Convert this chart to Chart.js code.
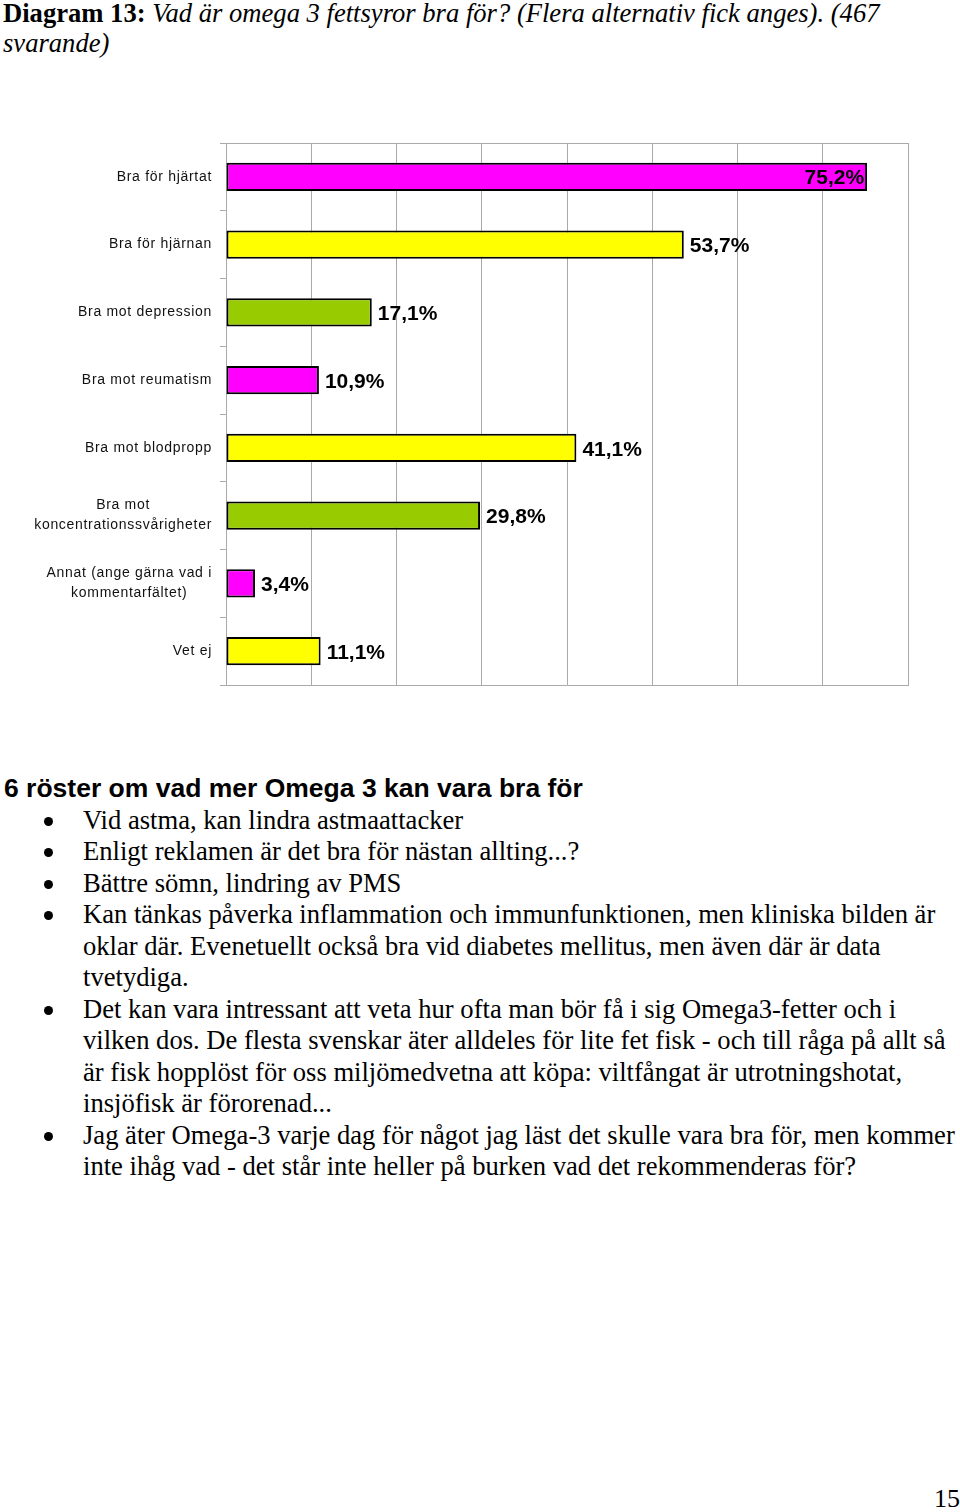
<!DOCTYPE html>
<html>
<head>
<meta charset="utf-8">
<script src="https://cdn.jsdelivr.net/npm/chart.js@4"></script>
<style>
  body { margin: 0; background: #fff; width: 960px; height: 1512px; position: relative; overflow: hidden; }
  .title { position: absolute; left: 3px; top: -2px; font-family: "Liberation Serif", serif; font-size: 26.6px; line-height: 30px; color: #000; white-space: nowrap; }
  .title b { font-style: normal; }
  .title i { font-style: italic; }
  #wrap { position: absolute; left: 0; top: 120px; }
  .heading { position: absolute; left: 4px; top: 773px; font-family: "Liberation Sans", Arial, sans-serif; font-weight: bold; font-size: 26.5px; line-height: 30px; white-space: nowrap; }
  ul { position: absolute; left: 0; top: 805px; margin: 0; padding: 0; list-style: none; font-family: "Liberation Serif", serif; font-size: 26.6px; line-height: 31.45px; }
  li { position: relative; padding-left: 83px; white-space: nowrap; }
  li::before { content: ""; position: absolute; left: 44px; top: 12px; width: 9px; height: 9px; border-radius: 50%; background: #000; }
  .page { position: absolute; right: 0; top: 1484px; font-family: "Liberation Serif", serif; font-size: 26px; }
</style>
</head>
<body>
<div class="title"><b>Diagram 13:</b> <i>Vad är omega 3 fettsyror bra för? (Flera alternativ fick anges). (467<br>svarande)</i></div>
<div id="wrap"><canvas id="myChart" width="960" height="590"></canvas></div>
<div class="heading">6 röster om vad mer Omega 3 kan vara bra för</div>
<ul>
  <li>Vid astma, kan lindra astmaattacker</li>
  <li>Enligt reklamen är det bra för nästan allting...?</li>
  <li>Bättre sömn, lindring av PMS</li>
  <li>Kan tänkas påverka inflammation och immunfunktionen, men kliniska bilden är<br>oklar där. Evenetuellt också bra vid diabetes mellitus, men även där är data<br>tvetydiga.</li>
  <li>Det kan vara intressant att veta hur ofta man bör få i sig Omega3-fetter och i<br>vilken dos. De flesta svenskar äter alldeles för lite fet fisk - och till råga på allt så<br>är fisk hopplöst för oss miljömedvetna att köpa: viltfångat är utrotningshotat,<br>insjöfisk är förorenad...</li>
  <li>Jag äter Omega-3 varje dag för något jag läst det skulle vara bra för, men kommer<br>inte ihåg vad - det står inte heller på burken vad det rekommenderas för?</li>
</ul>
<div class="page">15</div>
<script>
const categories = [
    'Bra för hjärtat',
    'Bra för hjärnan',
    'Bra mot depression',
    'Bra mot reumatism',
    'Bra mot blodpropp',
    ['Bra mot', 'koncentrationssvårigheter'],
    ['Annat (ange gärna vad i', 'kommentarfältet)'],
    'Vet ej'
];

const percentages = [75.2, 53.7, 17.1, 10.9, 41.1, 29.8, 3.4, 11.1];

const barColors = [
    '#ff00ff',
    '#ffff00',
    '#99cc00',
    '#ff00ff',
    '#ffff00',
    '#99cc00',
    '#ff00ff',
    '#ffff00'
];

const xMin = 0;
const xMax = 80;
const xStep = 10;

const fmt = v => v.toFixed(1).replace('.', ',') + '%';

// category labels, lines centred on each other, block right aligned
const labelPlugin = {
    id: 'catLabels',
    afterDraw(chart) {
        const ctx = chart.ctx;
        const y = chart.scales.y;
        const area = chart.chartArea;
        ctx.save();
        ctx.font = '14px "Liberation Sans", Arial, sans-serif';
        ctx.letterSpacing = '0.7px';
        ctx.fillStyle = '#111';
        ctx.textAlign = 'center';
        ctx.textBaseline = 'middle';
        categories.forEach((c, i) => {
            const lines = Array.isArray(c) ? c : [c];
            const w = Math.max(...lines.map(l => ctx.measureText(l).width));
            const cx = area.left - 14 - w / 2;
            const cy = y.getPixelForValue(i);
            const lh = 20;
            lines.forEach((l, k) => {
                ctx.fillText(l, cx, cy + (k - (lines.length - 1) / 2) * lh);
            });
        });
        ctx.letterSpacing = '0px';
        // top border of plot
        ctx.strokeStyle = '#aaaaaa';
        ctx.lineWidth = 1;
        ctx.beginPath();
        ctx.moveTo(area.left, area.top + 0.5);
        ctx.lineTo(area.right, area.top + 0.5);
        ctx.stroke();
        ctx.restore();
    }
};

// value labels at bar ends
const valuePlugin = {
    id: 'valueLabels',
    afterDatasetsDraw(chart) {
        const ctx = chart.ctx;
        const meta = chart.getDatasetMeta(0);
        const area = chart.chartArea;
        ctx.save();
        ctx.font = 'bold 21px "Liberation Sans", Arial, sans-serif';
        ctx.fillStyle = '#000';
        ctx.textBaseline = 'middle';
        meta.data.forEach((bar, i) => {
            const txt = fmt(percentages[i]);
            const w = ctx.measureText(txt).width;
            if (bar.x + 6 + w > area.right) {
                ctx.textAlign = 'right';
                ctx.fillText(txt, bar.x - 3, bar.y + 1);
            } else {
                ctx.textAlign = 'left';
                ctx.fillText(txt, bar.x + 6, bar.y + 2);
            }
        });
        ctx.restore();
    }
};

const data = {
    labels: categories,
    datasets: [{
        data: percentages,
        backgroundColor: barColors,
        borderColor: '#000',
        borderWidth: 2,
        borderSkipped: false,
        categoryPercentage: 1,
        barPercentage: 0.42
    }]
};

const config = {
    type: 'bar',
    data: data,
    options: {
        indexAxis: 'y',
        responsive: false,
        animation: false,
        devicePixelRatio: 1,
        layout: {
            padding: { top: 23, bottom: 25, left: 0, right: 52 }
        },
        plugins: {
            legend: { display: false },
            tooltip: { enabled: false }
        },
        scales: {
            x: {
                min: xMin,
                max: xMax,
                ticks: { display: false, stepSize: xStep },
                grid: { color: '#aaaaaa', drawTicks: false },
                border: { color: '#aaaaaa' },
                afterFit: s => { s.height = 0; }
            },
            y: {
                ticks: { display: false },
                grid: {
                    offset: true,
                    drawOnChartArea: false,
                    drawTicks: true,
                    tickLength: 6,
                    color: '#aaaaaa'
                },
                border: { color: '#aaaaaa' },
                afterFit: s => { s.width = 226; }
            }
        }
    },
    plugins: [labelPlugin, valuePlugin]
};

const myChart = new Chart(
    document.querySelector('#myChart'),
    config
);
</script>
</body>
</html>
